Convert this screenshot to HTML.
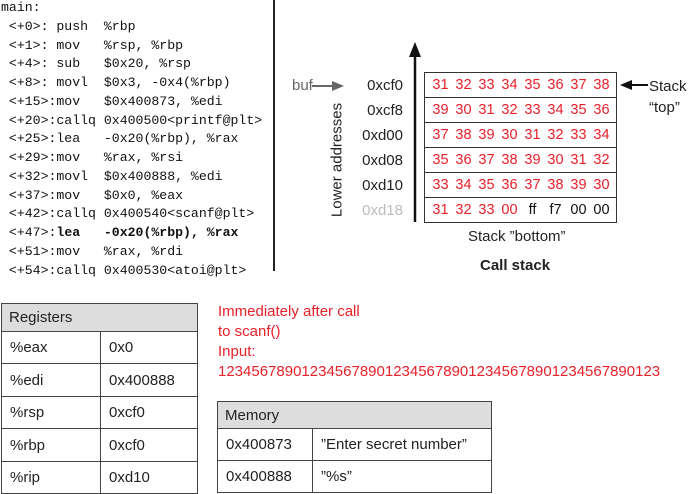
<!DOCTYPE html>
<html><head><style>
body{margin:0;width:688px;height:494px;background:#fff;position:relative;overflow:hidden;font-family:"Liberation Sans",sans-serif;}
.a{position:absolute;white-space:pre;}
.code{font-family:"Liberation Mono",monospace;font-size:13.2px;line-height:18.75px;left:1px;top:-1px;color:#111;}
.st{position:absolute;left:424px;top:72px;width:193px;border:1px solid #333;box-sizing:border-box;}
.st div{height:25px;border-top:1px solid #333;box-sizing:border-box;font-size:14.5px;color:#e8202a;line-height:24px;padding-left:4px;display:flex}
.st div span{width:23px;text-align:center}
.st div:first-child{border-top:none;height:24px}
.addr{position:absolute;right:285px;font-size:15px;color:#222;}
table{position:absolute;border-collapse:collapse;font-size:15px;color:#222;}
td{border:1.5px solid #444;padding:0 0 0 8px;}
th{border:1.5px solid #444;background:#ddd;text-align:left;font-weight:normal;padding:0 0 0 7px;}
.red{color:#e8202a;font-size:15px;left:218px;line-height:20px;}
</style></head><body>
<div class="a code">main:
 &lt;+0&gt;: push  %rbp
 &lt;+1&gt;: mov   %rsp, %rbp
 &lt;+4&gt;: sub   $0x20, %rsp
 &lt;+8&gt;: movl  $0x3, -0x4(%rbp)
 &lt;+15&gt;:mov   $0x400873, %edi
 &lt;+20&gt;:callq 0x400500&lt;printf@plt&gt;
 &lt;+25&gt;:lea   -0x20(%rbp), %rax
 &lt;+29&gt;:mov   %rax, %rsi
 &lt;+32&gt;:movl  $0x400888, %edi
 &lt;+37&gt;:mov   $0x0, %eax
 &lt;+42&gt;:callq 0x400540&lt;scanf@plt&gt;
 &lt;+47&gt;:<b>lea   -0x20(%rbp), %rax</b>
 &lt;+51&gt;:mov   %rax, %rdi
 &lt;+54&gt;:callq 0x400530&lt;atoi@plt&gt;</div>
<div style="position:absolute;left:273px;top:0;width:1.5px;height:271px;background:#222"></div>

<svg style="position:absolute;left:0;top:0" width="688" height="300">
<line x1="415" y1="222" x2="415" y2="52" stroke="#111" stroke-width="2.5"/>
<polygon points="409,57 415,42 421,57" fill="#111"/>
<line x1="312" y1="86" x2="334" y2="86" stroke="#666" stroke-width="2"/>
<polygon points="332,81 344,86 332,91" fill="#666"/>
<line x1="630" y1="85" x2="648" y2="85" stroke="#111" stroke-width="2"/>
<polygon points="632,80 620,85 632,90" fill="#111"/>
</svg>
<div class="a" style="left:292px;top:77px;font-size:15px;color:#666">buf</div>
<div class="a" style="left:649px;top:76px;font-size:15px;color:#222;line-height:21px">Stack
“top”</div>
<div class="addr" style="top:77px">0xcf0</div>
<div class="addr" style="top:102px">0xcf8</div>
<div class="addr" style="top:127px">0xd00</div>
<div class="addr" style="top:152px">0xd08</div>
<div class="addr" style="top:177px">0xd10</div>
<div class="addr" style="top:202px;color:#bbb">0xd18</div>
<div class="a" style="left:337px;top:160px;font-size:15px;color:#222;transform:translate(-50%,-50%) rotate(-90deg)">Lower addresses</div>
<div class="st">
<div><span>31</span><span>32</span><span>33</span><span>34</span><span>35</span><span>36</span><span>37</span><span>38</span></div>
<div><span>39</span><span>30</span><span>31</span><span>32</span><span>33</span><span>34</span><span>35</span><span>36</span></div>
<div><span>37</span><span>38</span><span>39</span><span>30</span><span>31</span><span>32</span><span>33</span><span>34</span></div>
<div><span>35</span><span>36</span><span>37</span><span>38</span><span>39</span><span>30</span><span>31</span><span>32</span></div>
<div><span>33</span><span>34</span><span>35</span><span>36</span><span>37</span><span>38</span><span>39</span><span>30</span></div>
<div><span>31</span><span>32</span><span>33</span><span>00</span><span style="color:#111">ff</span><span style="color:#111">f7</span><span style="color:#111">00</span><span style="color:#111">00</span></div>
</div>
<div class="a" style="left:468px;top:228px;font-size:15px;color:#222">Stack ”bottom”</div>
<div class="a" style="left:480px;top:257px;font-size:15px;font-weight:bold;color:#222">Call stack</div>

<table style="left:1px;top:303px;width:197px">
<tr style="height:28px"><th colspan="2">Registers</th></tr>
<tr style="height:32px"><td style="width:90px">%eax</td><td>0x0</td></tr>
<tr style="height:33px"><td>%edi</td><td>0x400888</td></tr>
<tr style="height:32px"><td>%rsp</td><td>0xcf0</td></tr>
<tr style="height:33px"><td>%rbp</td><td>0xcf0</td></tr>
<tr style="height:32px"><td>%rip</td><td>0xd10</td></tr>
</table>

<div class="a red" style="top:302px">Immediately after call
to scanf()
Input:
12345678901234567890123456789012345678901234567890123</div>

<table style="left:217px;top:401px;width:275px">
<tr style="height:27px"><th colspan="2">Memory</th></tr>
<tr style="height:32px"><td style="width:86px">0x400873</td><td>”Enter secret number”</td></tr>
<tr style="height:32px"><td>0x400888</td><td>”%s”</td></tr>
</table>
</body></html>
